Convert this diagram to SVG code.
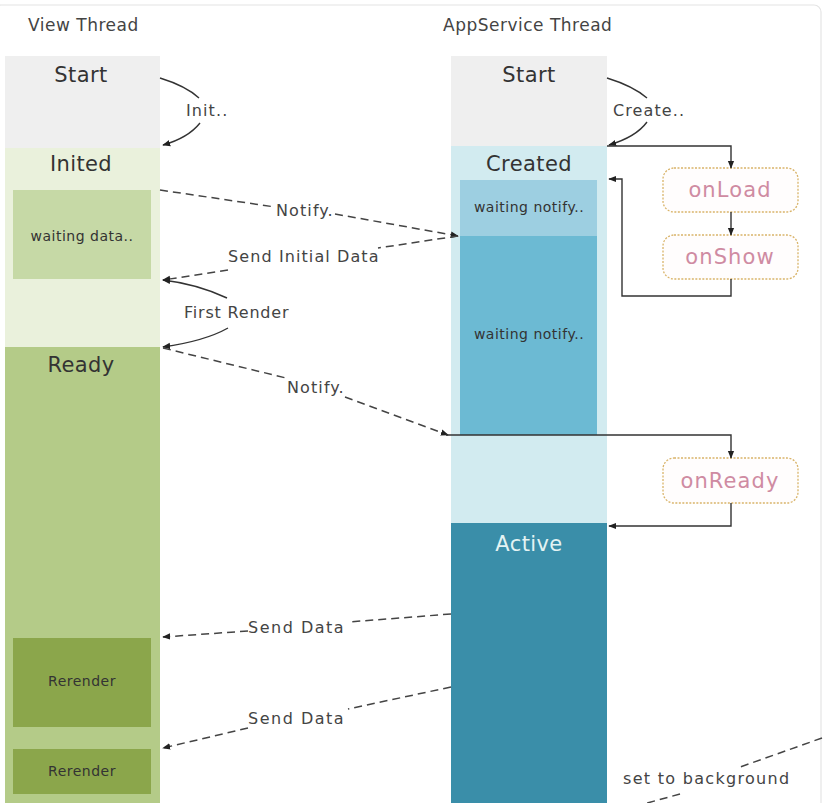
<svg xmlns="http://www.w3.org/2000/svg" width="831" height="803" viewBox="0 0 831 803">
<defs>
<marker id="ah" viewBox="0 0 10 10" refX="9" refY="5" markerWidth="8" markerHeight="8" orient="auto" markerUnits="userSpaceOnUse">
<path d="M0,1 L10,5 L0,9 Z" fill="#222"/>
</marker>
</defs>
<style>
text{font-family:"DejaVu Sans","Liberation Sans",sans-serif;}
.hdr{font-size:17px;fill:#444;letter-spacing:0.5px;}
.big{font-size:21px;fill:#333;text-anchor:middle;letter-spacing:0.4px;}
.sm{font-size:14px;fill:#333;text-anchor:middle;letter-spacing:0.5px;}
.lbl{font-size:16px;fill:#444;letter-spacing:1.1px;}
.hook{fill:#fffdfd;stroke:#d9b46a;stroke-width:1.3;stroke-dasharray:2 1.5;}
.hk{font-size:21px;fill:#cf8ba2;text-anchor:middle;letter-spacing:1.1px;}
.sol{fill:none;stroke:#333;stroke-width:1.4;}
.dash{fill:none;stroke:#444;stroke-width:1.5;stroke-dasharray:8 5;}
</style>
<rect x="0" y="0" width="831" height="803" fill="#ffffff"/>
<rect x="-6" y="5" width="827" height="820" rx="7" fill="none" stroke="#e4e4e4" stroke-width="1.2"/>
<text class="hdr" x="28" y="31">View Thread</text>
<text class="hdr" x="443" y="31">AppService Thread</text>

<g id="v-start"><rect x="5" y="56" width="155" height="92" fill="#efefef"/><text class="big" x="81" y="82">Start</text></g>
<g id="v-inited"><rect x="5" y="148" width="155" height="199" fill="#eaf1dc"/><text class="big" x="81" y="171">Inited</text></g>
<g id="v-waiting"><rect x="13" y="190" width="138" height="89" fill="#c6d9a6"/><text class="sm" x="82" y="241">waiting data..</text></g>
<g id="v-ready"><rect x="5" y="347" width="155" height="456" fill="#b4cb88"/><text class="big" x="81" y="372">Ready</text></g>
<g id="v-rerender1"><rect x="13" y="638" width="138" height="89" fill="#8ba64b"/><text class="sm" x="82" y="686">Rerender</text></g>
<g id="v-rerender2"><rect x="13" y="749" width="138" height="45" fill="#8ba64b"/><text class="sm" x="82" y="776">Rerender</text></g>

<g id="a-start"><rect x="451" y="56" width="156" height="90" fill="#efefef"/><text class="big" x="529" y="82">Start</text></g>
<g id="a-created"><rect x="451" y="146" width="156" height="377" fill="#d2ebf0"/><text class="big" x="529" y="171">Created</text></g>
<g id="a-wait1"><rect x="460" y="180" width="137" height="56" fill="#9dcfe1"/><text class="sm" x="529" y="212">waiting notify..</text></g>
<g id="a-wait2"><rect x="460" y="236" width="137" height="199" fill="#6cbad3"/><text class="sm" x="529" y="339">waiting notify..</text></g>
<g id="a-active"><rect x="451" y="523" width="156" height="280" fill="#3a8ea9"/><text class="big" x="529" y="551" style="fill:#e4f3f3">Active</text></g>

<g id="onLoad"><rect class="hook" x="663" y="168" width="135" height="44" rx="11"/><text class="hk" x="730" y="197">onLoad</text></g>
<g id="onShow"><rect class="hook" x="663" y="235" width="135" height="44" rx="11"/><text class="hk" x="730" y="264">onShow</text></g>
<g id="onReady"><rect class="hook" x="663" y="458" width="135" height="45" rx="11"/><text class="hk" x="730" y="488">onReady</text></g>

<g id="connectors">
<path class="sol" d="M160,78 Q186,86 199,98"/>
<path class="sol" d="M200,123 Q188,138 163,145" marker-end="url(#ah)"/>
<text class="lbl" x="186" y="116">Init..</text>
<path class="sol" d="M607,78 Q633,86 647,98"/>
<path class="sol" d="M647,122 Q636,137 609,145" marker-end="url(#ah)"/>
<text class="lbl" x="613" y="116">Create..</text>
<path class="sol" d="M607,146 H731 V168" marker-end="url(#ah)"/>
<path class="sol" d="M731,212 V235" marker-end="url(#ah)"/>
<path class="sol" d="M731,279 V296 H622 V179 H609" marker-end="url(#ah)"/>

<path class="dash" d="M160,190 L275,207"/>
<path class="dash" d="M335,214 L458,236" marker-end="url(#ah)"/>
<text class="lbl" x="276" y="216">Notify.</text>
<path class="dash" d="M458,236 L378,248"/>
<path class="dash" d="M228,270 L163,280" marker-end="url(#ah)"/>
<text class="lbl" x="228" y="262">Send Initial Data</text>
<path class="sol" d="M227,298 Q197,284 163,280" marker-end="url(#ah)"/>
<path class="sol" d="M228,328 Q205,341 163,347" marker-end="url(#ah)"/>
<text class="lbl" x="184" y="318" style="letter-spacing:0.8px">First Render</text>

<path class="dash" d="M163,348 L286,378"/>
<path class="dash" d="M345,397 L448,435" marker-end="url(#ah)"/>
<text class="lbl" x="287" y="393">Notify.</text>
<path class="sol" d="M446,435 H731 V458" marker-end="url(#ah)"/>
<path class="sol" d="M731,503 V526 H609" marker-end="url(#ah)"/>

<path class="dash" d="M451,614 L348,622"/>
<path class="dash" d="M248,631 L163,637" marker-end="url(#ah)"/>
<text class="lbl" x="248" y="633" style="letter-spacing:1.5px">Send Data</text>
<path class="dash" d="M451,687 L348,709"/>
<path class="dash" d="M248,728 L163,748" marker-end="url(#ah)"/>
<text class="lbl" x="248" y="724" style="letter-spacing:1.5px">Send Data</text>

<path class="dash" d="M822,738 L740,767"/>
<path class="dash" d="M680,794 L640,805"/>
<text class="lbl" x="623" y="784" style="letter-spacing:1.3px">set to background</text>
</g>
</svg>
